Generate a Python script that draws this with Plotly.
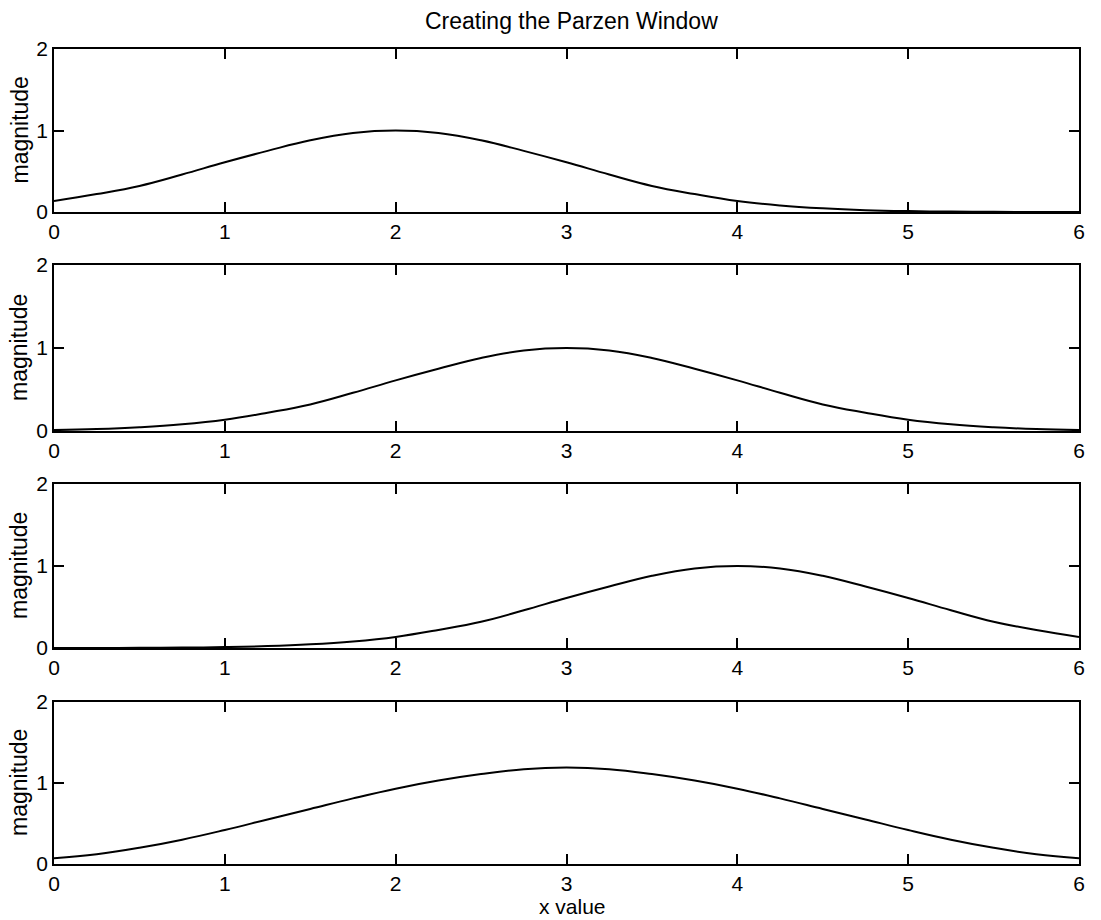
import plotly.graph_objects as go

# x samples (0.25 steps)
x_values = [0.0, 0.25, 0.5, 0.75, 1.0, 1.25, 1.5, 1.75, 2.0, 2.25, 2.5, 2.75, 3.0,
            3.25, 3.5, 3.75, 4.0, 4.25, 4.5, 4.75, 5.0, 5.25, 5.5, 5.75, 6.0]

# window centred at 2
window_a = [0.135, 0.22, 0.32, 0.46, 0.61, 0.75, 0.88, 0.97, 1.0, 0.97, 0.88, 0.75, 0.61,
            0.46, 0.32, 0.22, 0.135, 0.08, 0.045, 0.023, 0.011, 0.005, 0.002, 0.001, 0.0003]
# window centred at 3
window_b = [0.011, 0.023, 0.045, 0.08, 0.135, 0.22, 0.32, 0.46, 0.61, 0.75, 0.88, 0.97, 1.0,
            0.97, 0.88, 0.75, 0.61, 0.46, 0.32, 0.22, 0.135, 0.08, 0.045, 0.023, 0.011]
# window centred at 4
window_c = [0.0003, 0.001, 0.002, 0.005, 0.011, 0.023, 0.045, 0.08, 0.135, 0.22, 0.32, 0.46, 0.61,
            0.75, 0.88, 0.97, 1.0, 0.97, 0.88, 0.75, 0.61, 0.46, 0.32, 0.22, 0.135]
# combined Parzen window
window_sum = [0.07, 0.12, 0.2, 0.3, 0.42, 0.55, 0.68, 0.81, 0.93, 1.03, 1.11, 1.17, 1.19,
              1.17, 1.11, 1.03, 0.93, 0.81, 0.68, 0.55, 0.42, 0.3, 0.2, 0.12, 0.07]

series = [window_a, window_b, window_c, window_sum]
x_ticks = [0, 1, 2, 3, 4, 5, 6]
y_ticks = [0, 1, 2]

title_text = "Creating the Parzen Window"
y_label = "magnitude"
x_label = "x value"

W, H = 1101, 920
ml, mr, mt, mb = 54, 22, 49, 56
ph = H - mt - mb
# panel top/bottom in pixels
panels = [(49, 212), (265, 431), (484, 648), (702, 864)]

font_family = "Liberation Sans, Arial, Helvetica, sans-serif"
tick_size = 21
label_size = 23

fig = go.Figure()
layout = dict(
    width=W, height=H,
    margin=dict(l=ml, r=mr, t=mt, b=mb),
    paper_bgcolor="white", plot_bgcolor="white",
    showlegend=False,
    font=dict(family=font_family, size=tick_size, color="black"),
)

annotations = []
for i, ys in enumerate(series):
    n = "" if i == 0 else str(i + 1)
    fig.add_trace(go.Scatter(
        x=x_values, y=ys, mode="lines",
        line=dict(color="black", width=2, shape="spline", smoothing=1.2),
        xaxis="x" + n, yaxis="y" + n,
    ))
    top, bot = panels[i]
    d0 = (H - mb - bot) / ph
    d1 = (H - mb - top) / ph
    layout["xaxis" + n] = dict(
        domain=[0, 1], range=[0, 6], anchor="y" + n,
        tickmode="array", tickvals=x_ticks, ticktext=[str(t) for t in x_ticks],
        ticks="inside", ticklen=10, tickwidth=1.5, tickcolor="black",
        showline=True, linecolor="black", linewidth=2, mirror="ticks",
        showgrid=False, zeroline=False, ticklabelstandoff=0,
        tickfont=dict(size=tick_size, family=font_family),
    )
    layout["yaxis" + n] = dict(
        domain=[d0, d1], range=[0, 2], anchor="x" + n,
        tickmode="array", tickvals=y_ticks, ticktext=[str(t) for t in y_ticks],
        ticks="inside", ticklen=10, tickwidth=1.5, tickcolor="black",
        showline=True, linecolor="black", linewidth=1.5, mirror="ticks",
        showgrid=False, zeroline=False,
        tickfont=dict(size=tick_size, family=font_family),
    )
    annotations.append(dict(
        text=y_label, textangle=-90, showarrow=False,
        xref="paper", yref="paper",
        x=(19 - ml) / (W - ml - mr), y=(d0 + d1) / 2,
        xanchor="center", yanchor="middle",
        font=dict(size=label_size, family=font_family, color="black"),
    ))

annotations.append(dict(
    text=title_text, showarrow=False, xref="paper", yref="paper",
    x=(571 - ml) / (W - ml - mr), y=(H - mb - 21) / ph,
    xanchor="center", yanchor="middle",
    font=dict(size=label_size, family=font_family, color="black"),
))
annotations.append(dict(
    text=x_label, showarrow=False, xref="paper", yref="paper",
    x=(572 - ml) / (W - ml - mr), y=(H - mb - 907) / ph,
    xanchor="center", yanchor="middle",
    font=dict(size=21, family=font_family, color="black"),
))
layout["annotations"] = annotations
fig.update_layout(**layout)
fig.write_html("out.html")
